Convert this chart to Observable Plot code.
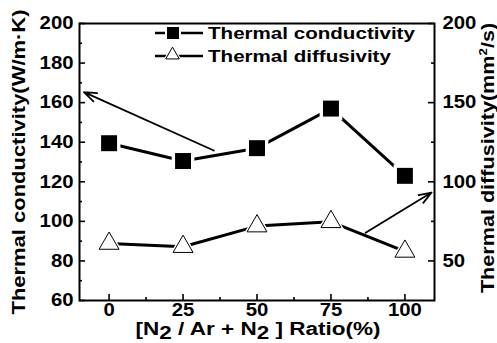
<!DOCTYPE html>
<html><head><meta charset="utf-8">
<script src="https://cdn.jsdelivr.net/npm/d3@7"></script>
<script src="https://cdn.jsdelivr.net/npm/@observablehq/plot@0.6"></script>
<style>
body{margin:0;background:#fff;}
#wrap{position:relative;width:497px;height:343px;}
#wrap svg text{font-family:"Liberation Sans",Arial,sans-serif;font-weight:bold;font-size:18px;fill:#000;}
</style></head><body><div id="wrap"></div>
<script>
// ---- data ----
const ratios = [0, 25, 50, 75, 100];
const conductivity = [139.5, 130.5, 137, 157, 123];   // W/m·K (left axis)
const diffusivity = [61, 59, 72, 74.7, 56];            // mm²/s (right axis)

const xDomain = [-10, 110];
const leftDomain = [60, 200];
const rightDomain = [25, 200];
const xTicks = [0, 25, 50, 75, 100];
const xMinorTicks = [12.5, 37.5, 62.5, 87.5];
const leftTicks = [60, 80, 100, 120, 140, 160, 180, 200];
const leftMinorTicks = [70, 90, 110, 130, 150, 170, 190];
const rightTicks = [50, 100, 150, 200];
const rightMinorTicks = [75, 125, 175];

// annotation arrows: from (x1,y1) to (x2,y2); axis tells which y units
const arrowX1 = [35.4, 86.7];
const arrowY1 = [135.8, 67.8];
const arrowX2 = [-8.5, 109];
const arrowY2 = [165.3, 93.2];
const arrowAxis = ["left", "right"];

const seriesNames = ["Thermal conductivity", "Thermal diffusivity"];

// ---- layout ----
const W = 497, H = 343, mL = 79, mR = 63, mT = 23, mB = 43;
const fw = W - mL - mR, fh = H - mT - mB;

// ---- helpers ----
const toLeft = v => leftDomain[0] + (v - rightDomain[0]) * (leftDomain[1] - leftDomain[0]) / (rightDomain[1] - rightDomain[0]);
const condData = ratios.map((r, i) => ({x: r, y: conductivity[i]}));
const diffData = ratios.map((r, i) => ({x: r, y: toLeft(diffusivity[i])}));
const arrowData = arrowX1.map((_, i) => ({
  x1: arrowX1[i], x2: arrowX2[i],
  y1: arrowAxis[i] === "left" ? arrowY1[i] : toLeft(arrowY1[i]),
  y2: arrowAxis[i] === "left" ? arrowY2[i] : toLeft(arrowY2[i])
}));
const tk = {stroke: "black", strokeWidth: 1.6};

const chart = Plot.plot({
  width: W, height: H,
  marginLeft: mL, marginRight: mR, marginTop: mT, marginBottom: mB,
  x: {domain: xDomain},
  y: {domain: leftDomain},
  style: {background: "white", color: "black"},
  marks: [
    // tick labels
    Plot.axisX(xTicks, {tickSize: 0, tickPadding: 3, label: null}),
    Plot.axisY(leftTicks, {anchor: "left", tickSize: 0, tickPadding: 6, label: null}),
    Plot.axisY(rightTicks.map(toLeft), {anchor: "right", tickSize: 0, tickPadding: 8, label: null,
      tickFormat: (d, i) => String(rightTicks[i])}),
    // inward tick marks
    Plot.tickX(xTicks, {x: d => d, insetTop: fh - 6, ...tk}),
    Plot.tickX(xMinorTicks, {x: d => d, insetTop: fh - 3, ...tk}),
    Plot.tickY(leftTicks, {y: d => d, insetRight: fw - 6, ...tk}),
    Plot.tickY(leftMinorTicks, {y: d => d, insetRight: fw - 3, ...tk}),
    Plot.tickY(rightTicks.map(toLeft), {y: d => d, insetLeft: fw - 6, ...tk}),
    Plot.tickY(rightMinorTicks.map(toLeft), {y: d => d, insetLeft: fw - 3, ...tk}),
    Plot.frame({stroke: "black", strokeWidth: 2}),
    // series
    Plot.line(condData, {x: "x", y: "y", stroke: "black", strokeWidth: 3}),
    Plot.line(diffData, {x: "x", y: "y", stroke: "black", strokeWidth: 3}),
    Plot.arrow(arrowData, {x1: "x1", y1: "y1", x2: "x2", y2: "y2", stroke: "black", strokeWidth: 1.8, headLength: 11, headAngle: 40}),
    Plot.dot(condData, {x: "x", y: "y", symbol: "square", r: 12.8, fill: "white"}),
    Plot.dot(condData, {x: "x", y: "y", symbol: "square", r: 9, fill: "black"}),
    Plot.dot(diffData, {x: "x", y: "y", symbol: "triangle", r: 9.8, fill: "white"}),
    Plot.dot(diffData, {x: "x", y: "y", symbol: "triangle", r: 7.4, fill: "white", stroke: "black", strokeWidth: 1})
  ]
});

document.getElementById("wrap").appendChild(chart);
const svg = d3.select(chart);

// widen tick-label glyphs (reference lettering is broad)
chart.querySelectorAll("text").forEach(t => {
  const len = t.getComputedTextLength();
  if (len > 0) {
    t.setAttribute("textLength", len * 1.13);
    t.setAttribute("lengthAdjust", "spacingAndGlyphs");
  }
});

const stretch = (sel, k) => {
  const t = sel.node();
  t.setAttribute("textLength", t.getComputedTextLength() * k);
  t.setAttribute("lengthAdjust", "spacingAndGlyphs");
};

// axis titles
stretch(svg.append("text")
  .attr("transform", "translate(25,162) rotate(-90)")
  .attr("text-anchor", "middle")
  .style("font-size", "18px")
  .text("Thermal conductivity(W/m·K)"), 1.22);

const rt = svg.append("text")
  .attr("transform", "translate(494,158) rotate(-90)")
  .attr("text-anchor", "middle")
  .style("font-size", "18px");
rt.append("tspan").text("Thermal diffusivity(mm");
rt.append("tspan").attr("dy", -7).style("font-size", "11px").text("2");
rt.append("tspan").attr("dy", 7).text("/s)");
stretch(rt, 1.2);

const xt = svg.append("text")
  .attr("x", 258).attr("y", 335)
  .attr("text-anchor", "middle")
  .style("font-size", "18px");
xt.append("tspan").text("[N");
xt.append("tspan").attr("dy", 4).text("2");
xt.append("tspan").attr("dy", -4).text(" / Ar + N");
xt.append("tspan").attr("dy", 4).text("2");
xt.append("tspan").attr("dy", -4).text(" ] Ratio(%)");
stretch(xt, 1.25);

// legend
const lg = svg.append("g");
const rows = [33, 56];
rows.forEach((cy, i) => {
  lg.append("line").attr("x1", 155).attr("x2", 203).attr("y1", cy).attr("y2", cy)
    .attr("stroke", "black").attr("stroke-width", 2.5);
  if (i === 0) {
    lg.append("rect").attr("x", 165).attr("y", cy - 8).attr("width", 16).attr("height", 16).attr("fill", "white");
    lg.append("rect").attr("x", 167).attr("y", cy - 6).attr("width", 12).attr("height", 12).attr("fill", "black");
  } else {
    const tri = d3.symbol(d3.symbolTriangle);
    lg.append("path").attr("transform", `translate(172.5,${cy - 1})`).attr("d", tri.size(150)()).attr("fill", "white");
    lg.append("path").attr("transform", `translate(172.5,${cy - 1})`).attr("d", tri.size(80)())
      .attr("fill", "white").attr("stroke", "black").attr("stroke-width", 1);
  }
  stretch(lg.append("text").attr("x", 208).attr("y", cy + 6).attr("text-anchor", "start")
    .style("font-size", "17px").text(seriesNames[i]), 1.21);
});
</script></body></html>
